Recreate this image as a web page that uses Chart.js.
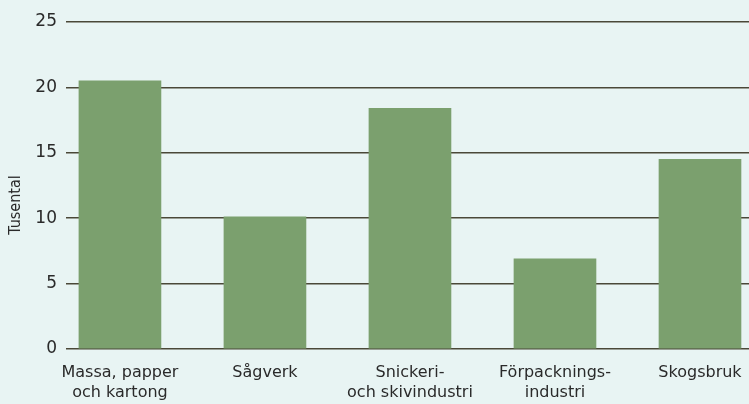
<!DOCTYPE html>
<html>
<head>
<meta charset="utf-8">
<script src="https://cdn.jsdelivr.net/npm/chart.js@4/dist/chart.umd.min.js"></script>
<style>
  html, body { margin:0; padding:0; background:#e8f4f3 }
  #wrap { position:relative; width:749px; height:404px }
  #ytitle { position:absolute; left:-25px; top:195px; width:80px; text-align:center;
            transform:rotate(-90deg); font:16px "Liberation Sans Narrow", "DejaVu Sans Condensed", sans-serif;
            line-height:20px; color:#2a2a2a; }
</style>
</head>
<body>
<div id="wrap">
  <canvas id="c" width="749" height="404"></canvas>
  <div id="ytitle">Tusental</div>
</div>
<script>
const CATEGORIES = [
  ['Massa, papper', 'och kartong'],
  ['Sågverk'],
  ['Snickeri-', 'och skivindustri'],
  ['Förpacknings-', 'industri'],
  ['Skogsbruk'],
]
const VALUES = [20.5, 10.1, 18.4, 6.9, 14.5]
const Y_TICKS = [0, 5, 10, 15, 20, 25]

const BAR = '#7ba06e'
const INK = '#2a2a2a'
const FONT = 'DejaVu Sans'

new Chart(document.getElementById('c'), {
  type: 'bar',
  data: {
    datasets: [{
      data: VALUES.map((v, i) => ({ x: i, y: v })),
      backgroundColor: BAR,
      borderWidth: 0,
      barThickness: 82,
    }],
  },
  options: {
    responsive: false,
    animation: false,
    layout: { padding: { top: 22, right: 0, left: 0, bottom: 0 } },
    plugins: { legend: { display: false }, tooltip: { enabled: false } },
    scales: {
      x: {
        type: 'linear',
        offset: false,
        min: -0.372,
        max: 4.338,
        grid: { display: false },
        border: { display: false },
        afterBuildTicks: s => { s.ticks = CATEGORIES.map((_, i) => ({ value: i })) },
        afterFit: s => { s.height = 55 },
        ticks: {
          autoSkip: false,
          maxRotation: 0,
          padding: 6,
          color: INK,
          font: { family: FONT, size: 16, lineHeight: 1.25 },
          callback: v => CATEGORIES[v],
        },
      },
      y: {
        min: 0,
        max: 25,
        afterBuildTicks: s => { s.ticks = Y_TICKS.map(v => ({ value: v })) },
        afterFit: s => { s.width = 66 },
        grid: { color: '#4a4838', lineWidth: 1.5, drawTicks: false },
        border: { display: false },
        ticks: {
          padding: 9,
          color: INK,
          font: { family: FONT, size: 17 },
        },
      },
    },
  },
})
</script>
</body>
</html>
